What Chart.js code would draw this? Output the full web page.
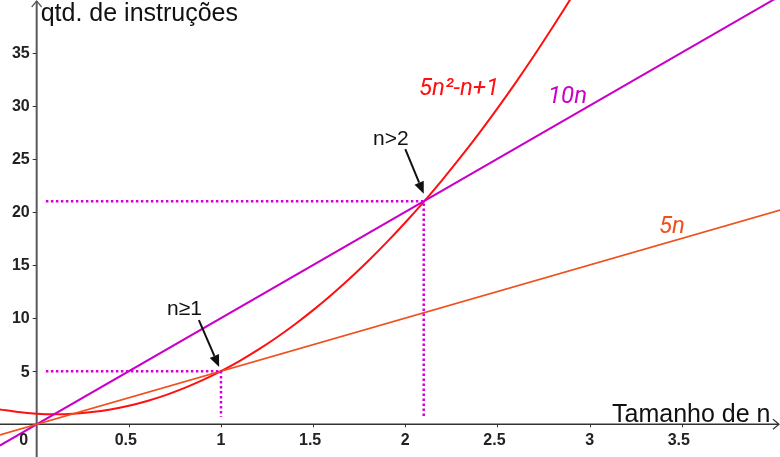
<!DOCTYPE html>
<html>
<head>
<meta charset="utf-8">
<script src="https://cdn.jsdelivr.net/npm/chart.js@4"></script>
<style>
  html, body { margin: 0; padding: 0; background: #fff; }
  canvas { display: block; }
</style>
</head>
<body>
<canvas id="myChart" width="780" height="457"></canvas>
<script>
// values
const nCurve = [-0.2, -0.1, 0, 0.1, 0.2, 0.3, 0.4, 0.5, 0.6, 0.7, 0.8, 0.9, 1.0, 1.1, 1.2, 1.3, 1.4, 1.5, 1.6, 1.7, 1.8, 1.9, 2.0, 2.1, 2.2, 2.3, 2.4, 2.5, 2.6, 2.7, 2.8, 2.9, 3.0];
const yCurve = [1.4, 1.15, 1, 0.95, 1, 1.15, 1.4, 1.75, 2.2, 2.75, 3.4, 4.15, 5, 5.95, 7, 8.15, 9.4, 10.75, 12.2, 13.75, 15.4, 17.15, 19, 20.95, 23, 25.15, 27.4, 29.75, 32.2, 34.75, 37.4, 40.15, 43];
const nLine = [-0.2, 4.05];
const y10n = [-2, 40.5];
const y5n = [-1, 20.25];
const guide1X = [0.05, 1, 1];
const guide1Y = [5, 5, 0.7];
const guide2X = [0.05, 2.1, 2.1];
const guide2Y = [21, 21, 0.7];
const xTicks = [0.5, 1, 1.5, 2, 2.5, 3, 3.5];
const yTicks = [5, 10, 15, 20, 25, 30, 35];

const toPoints = (xs, ys) => xs.map((x, i) => ({ x: x, y: ys[i] }));

const purple = '#c800c8';
const red = '#ff1010';
const orange = '#f0501e';
const dotted = '#d600d6';

// axes, ticks and texts
const axesPlugin = {
    id: 'axesPlugin',
    beforeDatasetsDraw(chart) {
        const ctx = chart.ctx;
        const xs = chart.scales.x, ys = chart.scales.y;
        const x0 = xs.getPixelForValue(0);
        const y0 = ys.getPixelForValue(0);
        ctx.save();
        // y axis
        ctx.strokeStyle = '#5a5a5a';
        ctx.lineWidth = 2;
        ctx.beginPath();
        ctx.moveTo(x0, chart.height);
        ctx.lineTo(x0, 1);
        ctx.stroke();
        ctx.lineWidth = 1.2;
        ctx.beginPath();
        ctx.moveTo(x0 - 5, 7);
        ctx.lineTo(x0, 1);
        ctx.lineTo(x0 + 5, 7);
        ctx.stroke();
        // x axis
        ctx.strokeStyle = '#333';
        ctx.lineWidth = 1.5;
        ctx.beginPath();
        ctx.moveTo(0, y0);
        ctx.lineTo(chart.width - 1, y0);
        ctx.stroke();
        ctx.lineWidth = 1.2;
        ctx.beginPath();
        ctx.moveTo(chart.width - 7, y0 - 5);
        ctx.lineTo(chart.width - 1, y0);
        ctx.lineTo(chart.width - 7, y0 + 5);
        ctx.stroke();
        // tick marks
        ctx.lineWidth = 1;
        ctx.strokeStyle = '#333';
        xTicks.forEach(t => {
            const px = Math.round(xs.getPixelForValue(t)) + 0.5;
            ctx.beginPath();
            ctx.moveTo(px, y0);
            ctx.lineTo(px, y0 + 3);
            ctx.stroke();
        });
        yTicks.forEach(t => {
            const py = Math.round(ys.getPixelForValue(t)) + 0.5;
            ctx.beginPath();
            ctx.moveTo(x0 - 4, py);
            ctx.lineTo(x0, py);
            ctx.stroke();
        });
        ctx.restore();
    },
    afterDraw(chart) {
        const ctx = chart.ctx;
        const xs = chart.scales.x, ys = chart.scales.y;
        const x0 = xs.getPixelForValue(0);
        const y0 = ys.getPixelForValue(0);
        ctx.save();
        // tick labels
        ctx.fillStyle = '#222';
        ctx.font = 'bold 16px "Liberation Sans", Arial, sans-serif';
        ctx.textAlign = 'center';
        ctx.textBaseline = 'middle';
        xTicks.forEach(t => {
            // decimal labels sit a little left of their tick
            const shift = Number.isInteger(t) ? 0 : -3;
            ctx.fillText(String(t), xs.getPixelForValue(t) + shift, y0 + 16);
        });
        ctx.fillText('0', x0 - 13, y0 + 16);
        ctx.textAlign = 'right';
        yTicks.forEach(t => {
            ctx.fillText(String(t), x0 - 7, ys.getPixelForValue(t) + 1);
        });

        // axis titles
        ctx.fillStyle = '#111';
        ctx.font = '25px "Liberation Sans", Arial, sans-serif';
        ctx.textBaseline = 'alphabetic';
        ctx.textAlign = 'left';
        ctx.fillText('qtd. de instruções', x0 + 4, 21);
        ctx.fillText('Tamanho de n', 612, y0 - 2);

        // function names
        ctx.font = 'italic 24px Roboto, sans-serif';
        ctx.fillStyle = red;
        ctx.fillText('5n²-n+1', 419, 95);
        ctx.fillStyle = purple;
        ctx.fillText('10n', 548, 103);
        ctx.fillStyle = orange;
        ctx.fillText('5n', 659, 233);

        // annotations with arrows
        ctx.fillStyle = '#111';
        ctx.strokeStyle = '#111';
        ctx.font = '21px "Liberation Sans", Arial, sans-serif';
        ctx.fillText('n≥1', 167, 315);
        ctx.fillText('n>2', 373, 145);
        drawArrow(ctx, xs.getPixelForValue(0.88), ys.getPixelForValue(9.8), xs.getPixelForValue(0.99), ys.getPixelForValue(5.4));
        drawArrow(ctx, xs.getPixelForValue(2.0), ys.getPixelForValue(25.9), xs.getPixelForValue(2.1), ys.getPixelForValue(21.7));
        ctx.restore();
    }
};

function drawArrow(ctx, x1, y1, x2, y2) {
    const ang = Math.atan2(y2 - y1, x2 - x1);
    const len = 12, wid = 5;
    ctx.lineWidth = 2;
    ctx.beginPath();
    ctx.moveTo(x1, y1);
    ctx.lineTo(x2 - Math.cos(ang) * len, y2 - Math.sin(ang) * len);
    ctx.stroke();
    ctx.beginPath();
    ctx.moveTo(x2, y2);
    ctx.lineTo(x2 - Math.cos(ang) * len - Math.sin(ang) * wid, y2 - Math.sin(ang) * len + Math.cos(ang) * wid);
    ctx.lineTo(x2 - Math.cos(ang) * len + Math.sin(ang) * wid, y2 - Math.sin(ang) * len - Math.cos(ang) * wid);
    ctx.closePath();
    ctx.fill();
}

const config = {
    type: 'scatter',
    data: {
        datasets: [
            {
                label: 'guide n=1',
                data: toPoints(guide1X, guide1Y),
                showLine: true,
                borderColor: dotted,
                borderWidth: 2.5,
                borderDash: [2.5, 2.5],
                pointRadius: 0
            },
            {
                label: 'guide n=2.1',
                data: toPoints(guide2X, guide2Y),
                showLine: true,
                borderColor: dotted,
                borderWidth: 2.5,
                borderDash: [2.5, 2.5],
                pointRadius: 0
            },
            {
                label: '5n',
                data: toPoints(nLine, y5n),
                showLine: true,
                borderColor: orange,
                borderWidth: 1.8,
                pointRadius: 0
            },
            {
                label: '10n',
                data: toPoints(nLine, y10n),
                showLine: true,
                borderColor: purple,
                borderWidth: 2,
                pointRadius: 0
            },
            {
                label: '5n²-n+1',
                data: toPoints(nCurve, yCurve),
                showLine: true,
                borderColor: red,
                borderWidth: 2,
                pointRadius: 0,
                cubicInterpolationMode: 'monotone'
            }
        ]
    },
    options: {
        responsive: false,
        animation: false,
        devicePixelRatio: 1,
        layout: { padding: 0 },
        plugins: {
            legend: { display: false },
            tooltip: { enabled: false }
        },
        scales: {
            x: { type: 'linear', min: -0.199, max: 4.033, display: false },
            y: { type: 'linear', min: -3.08, max: 39.95, display: false }
        }
    },
    plugins: [axesPlugin]
};

const myChart = new Chart(document.getElementById('myChart'), config);
</script>
</body>
</html>
